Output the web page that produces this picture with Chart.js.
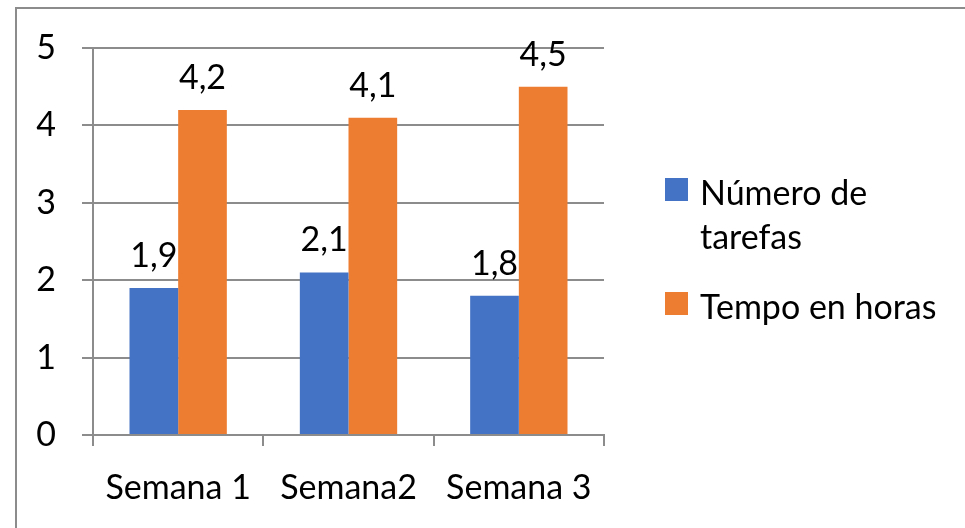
<!DOCTYPE html>
<html>
<head>
<meta charset="utf-8">
<script src="https://cdn.jsdelivr.net/npm/chart.js@4.4.1/dist/chart.umd.min.js"></script>
<style>
  html, body { margin: 0; padding: 0; background: #fff; }
  #wrap { position: relative; width: 965px; height: 528px; overflow: hidden; }
  #frame {
    position: absolute; left: 15px; top: 7px; width: 1000px; height: 600px;
    border: 2px solid #8c8c8c; box-sizing: border-box;
  }
  canvas { position: absolute; left: 0; top: 0; }
</style>
</head>
<body>
<div id="wrap">
  <div id="frame"></div>
  <canvas id="chart" width="965" height="528"></canvas>
</div>
<script>
const weeks = ['Semana 1', 'Semana2', 'Semana 3'];
const taskCounts = [1.9, 2.1, 1.8];
const hoursSpent = [4.2, 4.1, 4.5];
const seriesNames = [['Número de', 'tarefas'], ['Tempo en horas']];
const yTicks = [0, 1, 2, 3, 4, 5];

const FONT = 'Lato, "Open Sans", sans-serif';
const FONT_SIZE = 34;
const GRID = '#8c8c8c';

const fmt = v => v.toFixed(1).replace('.', ',');

// value labels above each bar
const barLabels = {
  id: 'barLabels',
  afterDatasetsDraw(chart) {
    const ctx = chart.ctx;
    ctx.save();
    ctx.font = `${FONT_SIZE}px ${FONT}`;
    ctx.fillStyle = '#000';
    ctx.textAlign = 'center';
    ctx.textBaseline = 'alphabetic';
    chart.data.datasets.forEach((ds, i) => {
      chart.getDatasetMeta(i).data.forEach((bar, j) => {
        ctx.fillText(fmt(ds.data[j]), bar.x, bar.y - 21);
      });
    });
    ctx.restore();
  }
};

// legend on the right, first entry wraps onto two lines
const sideLegend = {
  id: 'sideLegend',
  afterDraw(chart) {
    const ctx = chart.ctx;
    const x = chart.chartArea.right + 61;
    const rows = [178, 292];
    ctx.save();
    ctx.font = `${FONT_SIZE}px ${FONT}`;
    ctx.textAlign = 'left';
    ctx.textBaseline = 'alphabetic';
    chart.data.datasets.forEach((ds, i) => {
      const top = rows[i];
      ctx.fillStyle = ds.backgroundColor;
      ctx.fillRect(x, top, 23, 23);
      ctx.fillStyle = '#000';
      seriesNames[i].forEach((line, k) => {
        ctx.fillText(line, x + 35, top + 27 + k * 44);
      });
    });
    ctx.restore();
  }
};

new Chart(document.getElementById('chart'), {
  type: 'bar',
  plugins: [barLabels, sideLegend],
  data: {
    labels: weeks,
    datasets: [
      {
        label: seriesNames[0].join(' '),
        data: taskCounts,
        backgroundColor: '#4472c4'
      },
      {
        label: seriesNames[1].join(' '),
        data: hoursSpent,
        backgroundColor: '#ed7d31'
      }
    ]
  },
  options: {
    responsive: false,
    animation: false,
    // two bars plus a 150% gap per category
    categoryPercentage: 2 / 3.5,
    barPercentage: 1,
    layout: { padding: { top: 48, right: 361, left: 0, bottom: 0 } },
    plugins: {
      legend: { display: false },
      tooltip: { enabled: false }
    },
    scales: {
      x: {
        grid: {
          drawOnChartArea: false,
          drawTicks: true,
          tickLength: 11,
          color: GRID,
          lineWidth: 2
        },
        border: { color: GRID, width: 2 },
        ticks: {
          color: '#000',
          padding: 22,
          font: { family: FONT, size: FONT_SIZE }
        },
        afterFit(scale) { scale.height = 93; }
      },
      y: {
        min: 0,
        max: 5,
        afterBuildTicks(scale) { scale.ticks = yTicks.map(v => ({ value: v })); },
        grid: { color: GRID, lineWidth: 2, tickLength: 11 },
        border: { color: GRID, width: 2 },
        ticks: {
          color: '#000',
          padding: 26,
          font: { family: FONT, size: FONT_SIZE }
        },
        afterFit(scale) { scale.width = 93; }
      }
    }
  }
});
</script>
</body>
</html>
